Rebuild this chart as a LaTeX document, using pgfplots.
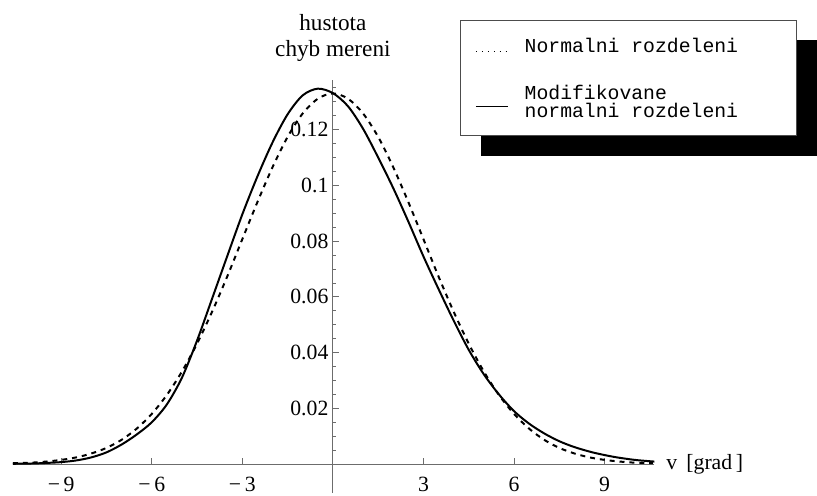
\documentclass[border=0pt]{standalone}
\usepackage{pgfplots}
\pgfplotsset{compat=1.18}
\usepackage{fontspec}
\setmainfont{Liberation Serif}
\newfontfamily\legfont{Liberation Mono}
\begin{document}
\begin{tikzpicture}
\begin{axis}[
  at={(13bp,3bp)}, anchor=south west,
  scale only axis, width=647bp, height=416bp,
  xmin=-10.6, xmax=10.65, ymin=-0.0103, ymax=0.1377,
  axis lines=middle,
  axis line style={-, draw=gray!85!black, line width=0.9bp},
  clip=false,
  xtick={-9,-6,-3,3,6,9},
  xticklabels={−\,9,−\,6,−\,3,3,6,9},
  ytick={0.02,0.04,0.06,0.08,0.1,0.12},
  yticklabels={0.02,0.04,0.06,0.08,0.1,0.12},
  minor ytick={0.005,0.01,0.015,0.025,0.03,0.035,0.045,0.05,0.055,0.065,0.07,0.075,0.085,0.09,0.095,0.105,0.11,0.115,0.125,0.13,0.135},
  tick align=inside,
  major tick length=6bp, minor tick length=3.5bp,
  every tick/.style={draw=gray!85!black, line width=0.8bp},
  tick label style={font=\fontsize{22}{26}\selectfont},
  xticklabel style={yshift=-10bp},
  yticklabel style={xshift=-1bp},
  xlabel={v\ \,[grad\,]},
  ylabel={hustota\\chyb mereni},
  xlabel style={at={(axis cs:10.65,0)}, anchor=west, inner sep=0pt, xshift=12bp, font=\fontsize{22}{26}\selectfont},
  ylabel style={at={(axis cs:0,0.1377)}, anchor=south, align=center, inner sep=0pt, yshift=19bp, font=\fontsize{23.5}{26}\selectfont, rotate=0},
]
% Normalni rozdeleni (dashed)
\addplot[smooth, black, line width=2bp, dash pattern=on 5bp off 5bp] coordinates {
(-10.6,0.0003) (-10,0.0005) (-9.5,0.0009) (-9,0.0015) (-8.5,0.0024) (-8,0.0038)
(-7.5,0.0058) (-7,0.0087) (-6.5,0.0127) (-6,0.0180) (-5.5,0.0248) (-5,0.0332)
(-4.5,0.0432) (-4,0.0547) (-3.5,0.0673) (-3,0.0807) (-2.5,0.0940) (-2,0.1065)
(-1.5,0.1174) (-1,0.1258) (-0.5,0.1311) (0,0.1330) (0.5,0.1311) (1,0.1258)
(1.5,0.1174) (2,0.1065) (2.5,0.0940) (3,0.0807) (3.5,0.0673) (4,0.0547)
(4.5,0.0432) (5,0.0332) (5.5,0.0248) (6,0.0180) (6.5,0.0127) (7,0.0087)
(7.5,0.0058) (8,0.0038) (8.5,0.0024) (9,0.0015) (9.5,0.0009) (10,0.0005) (10.6,0.0003)
};
% Modifikovane normalni rozdeleni (solid)
\addplot[smooth, black, line width=2bp] coordinates {
(-10.6,0.0001) (-10,0.0002) (-9.5,0.0004) (-9,0.0007) (-8.5,0.0013) (-8,0.0024)
(-7.5,0.0042) (-7,0.0070) (-6.5,0.0106) (-6,0.0150) (-5.5,0.0214) (-5,0.0310)
(-4.5,0.0443) (-4,0.0594) (-3.5,0.0746) (-3,0.0896) (-2.5,0.1032) (-2,0.1154)
(-1.5,0.1255) (-1,0.1323) (-0.5,0.1347)
(0,0.1331) (0.5,0.1284) (1.0,0.1203) (1.5,0.1100) (2.0,0.0990) (2.5,0.0870)
(3.0,0.0745) (3.5,0.0628) (4.0,0.0515) (4.5,0.0410) (5.0,0.0322) (5.5,0.0250)
(6.0,0.0190) (6.5,0.0145) (7.0,0.0110) (7.5,0.0082) (8.0,0.0061) (8.6,0.0042)
(9.3,0.0026) (10,0.0015) (10.65,0.0009)
};
\end{axis}
% legend
\fill[black] (485bp,343bp) rectangle (824bp,460bp);
\filldraw[fill=white, draw=gray!60!black, line width=0.8bp] (464bp,363bp) rectangle (803bp,479bp);
\draw[black, line width=1.3bp, dash pattern=on 1.3bp off 4.7bp] (480bp,448bp) -- (511bp,448bp);
\node[anchor=base west, inner sep=0pt, font=\legfont\fontsize{20}{20}\selectfont] at (529bp,447bp) {Normalni rozdeleni};
\draw[black, line width=0.8bp] (480bp,393bp) -- (512bp,393bp);
\node[anchor=base west, inner sep=0pt, font=\legfont\fontsize{20}{20}\selectfont] at (529bp,400bp) {Modifikovane};
\node[anchor=base west, inner sep=0pt, font=\legfont\fontsize{20}{20}\selectfont] at (529bp,381bp) {normalni rozdeleni};
\path[use as bounding box] (0bp,0bp) rectangle (817bp,500bp);
\end{tikzpicture}
\end{document}
